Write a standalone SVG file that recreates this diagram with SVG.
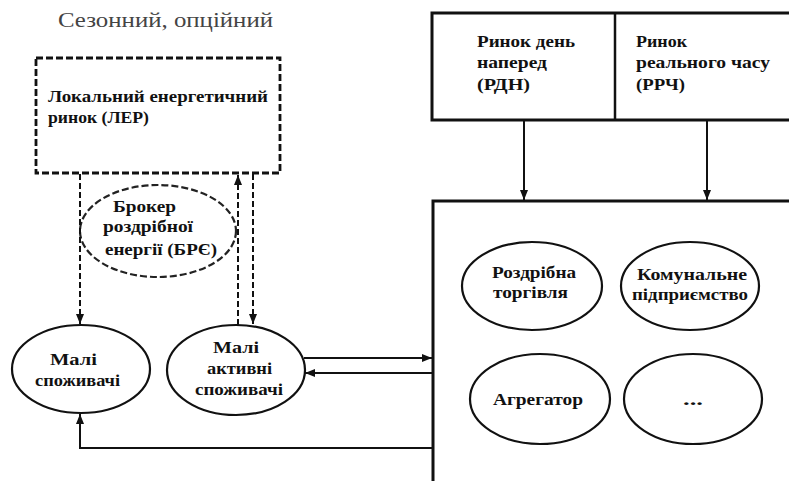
<svg xmlns="http://www.w3.org/2000/svg" width="789" height="481" viewBox="0 0 789 481">
<style>
  .lbl { font-family: "Liberation Serif", "Times New Roman", serif; font-weight: bold; font-size: 16px; fill: #111; }
  .title { font-family: "Liberation Serif", "Times New Roman", serif; font-size: 21px; fill: #444; }
  .node { fill: #fff; stroke: #111; stroke-width: 2.2; }
  .box { fill: #fff; stroke: #111; stroke-width: 3; }
  .dashbox { fill: #fff; stroke: #111; stroke-width: 2.8; stroke-dasharray: 7 3; }
  .dashell { fill: #fff; stroke: #222; stroke-width: 2.2; stroke-dasharray: 7 3; }
  .conn { fill: none; stroke: #111; stroke-width: 2; }
  .dconn { fill: none; stroke: #111; stroke-width: 2; stroke-dasharray: 6 3; }
</style>
<defs>
  <marker id="arr" markerUnits="userSpaceOnUse" markerWidth="10" markerHeight="10" viewBox="0 0 10 10" refX="10" refY="5" orient="auto">
    <path d="M0,1 L10,5 L0,9 Z" fill="#111"/>
  </marker>
</defs>

<text class="title" x="58" y="27" textLength="215" lengthAdjust="spacingAndGlyphs">Сезонний, опційний</text>

<g id="ler">
  <rect class="dashbox" x="36" y="58" width="244" height="115"/>
  <text class="lbl" x="48" y="102" textLength="220" lengthAdjust="spacingAndGlyphs">Локальний енергетичний</text>
  <text class="lbl" x="48" y="123" textLength="101" lengthAdjust="spacingAndGlyphs">ринок (ЛЕР)</text>
</g>

<g id="bre">
  <ellipse class="dashell" cx="158" cy="231" rx="78" ry="46"/>
  <text class="lbl" x="113" y="212" textLength="63" lengthAdjust="spacingAndGlyphs">Брокер</text>
  <text class="lbl" x="103" y="232" textLength="90" lengthAdjust="spacingAndGlyphs">роздрібної</text>
  <text class="lbl" x="105" y="255" textLength="112" lengthAdjust="spacingAndGlyphs">енергії (БРЄ)</text>
</g>

<g id="small">
  <ellipse class="node" cx="81" cy="369" rx="69" ry="44"/>
  <text class="lbl" x="50" y="365" textLength="47" lengthAdjust="spacingAndGlyphs">Малі</text>
  <text class="lbl" x="35" y="386" textLength="85" lengthAdjust="spacingAndGlyphs">споживачі</text>
</g>

<g id="active">
  <ellipse class="node" cx="236" cy="370" rx="69" ry="45"/>
  <text class="lbl" x="213" y="353" textLength="46" lengthAdjust="spacingAndGlyphs">Малі</text>
  <text class="lbl" x="207" y="374" textLength="65" lengthAdjust="spacingAndGlyphs">активні</text>
  <text class="lbl" x="195" y="395" textLength="88" lengthAdjust="spacingAndGlyphs">споживачі</text>
</g>

<g id="markets">
  <rect class="box" x="432" y="13" width="400" height="107"/>
  <line x1="615" y1="13" x2="615" y2="120" stroke="#111" stroke-width="2.5"/>
  <text class="lbl" x="477" y="47" textLength="98" lengthAdjust="spacingAndGlyphs">Ринок день</text>
  <text class="lbl" x="477" y="68" textLength="70" lengthAdjust="spacingAndGlyphs">наперед</text>
  <text class="lbl" x="477" y="90" textLength="53" lengthAdjust="spacingAndGlyphs">(РДН)</text>
  <text class="lbl" x="636" y="47" textLength="51" lengthAdjust="spacingAndGlyphs">Ринок</text>
  <text class="lbl" x="636" y="68" textLength="134" lengthAdjust="spacingAndGlyphs">реального часу</text>
  <text class="lbl" x="636" y="90" textLength="49" lengthAdjust="spacingAndGlyphs">(РРЧ)</text>
</g>

<g id="retail-box">
  <rect class="box" x="433" y="201" width="400" height="300"/>
</g>

<g id="retail">
  <ellipse class="node" cx="532" cy="286" rx="70" ry="44"/>
  <text class="lbl" x="492" y="278" textLength="84" lengthAdjust="spacingAndGlyphs">Роздрібна</text>
  <text class="lbl" x="493" y="298" textLength="75" lengthAdjust="spacingAndGlyphs">торгівля</text>
</g>

<g id="utility">
  <ellipse class="node" cx="690" cy="286" rx="69" ry="44"/>
  <text class="lbl" x="637" y="280" textLength="110" lengthAdjust="spacingAndGlyphs">Комунальне</text>
  <text class="lbl" x="632" y="300" textLength="116" lengthAdjust="spacingAndGlyphs">підприємство</text>
</g>

<g id="aggregator">
  <ellipse class="node" cx="540" cy="399" rx="70" ry="45"/>
  <text class="lbl" x="493" y="405" textLength="90" lengthAdjust="spacingAndGlyphs">Агрегатор</text>
</g>

<g id="other">
  <ellipse class="node" cx="693" cy="399" rx="69" ry="45"/>
  <text class="lbl" x="683" y="405" textLength="20" lengthAdjust="spacingAndGlyphs">...</text>
</g>

<g id="connectors">
  <line class="dconn" x1="80" y1="174" x2="80" y2="324" marker-end="url(#arr)"/>
  <line class="dconn" x1="238" y1="325" x2="238" y2="175" marker-end="url(#arr)"/>
  <line class="dconn" x1="253" y1="174" x2="253" y2="324" marker-end="url(#arr)"/>
  <line class="conn" x1="524" y1="121" x2="524" y2="200" marker-end="url(#arr)"/>
  <line class="conn" x1="707" y1="121" x2="707" y2="200" marker-end="url(#arr)"/>
  <line class="conn" x1="304" y1="358" x2="432" y2="358" marker-end="url(#arr)"/>
  <line class="conn" x1="432" y1="373" x2="305" y2="373" marker-end="url(#arr)"/>
  <polyline class="conn" points="432,448 80,448 80,414" marker-end="url(#arr)"/>
</g>
</svg>
